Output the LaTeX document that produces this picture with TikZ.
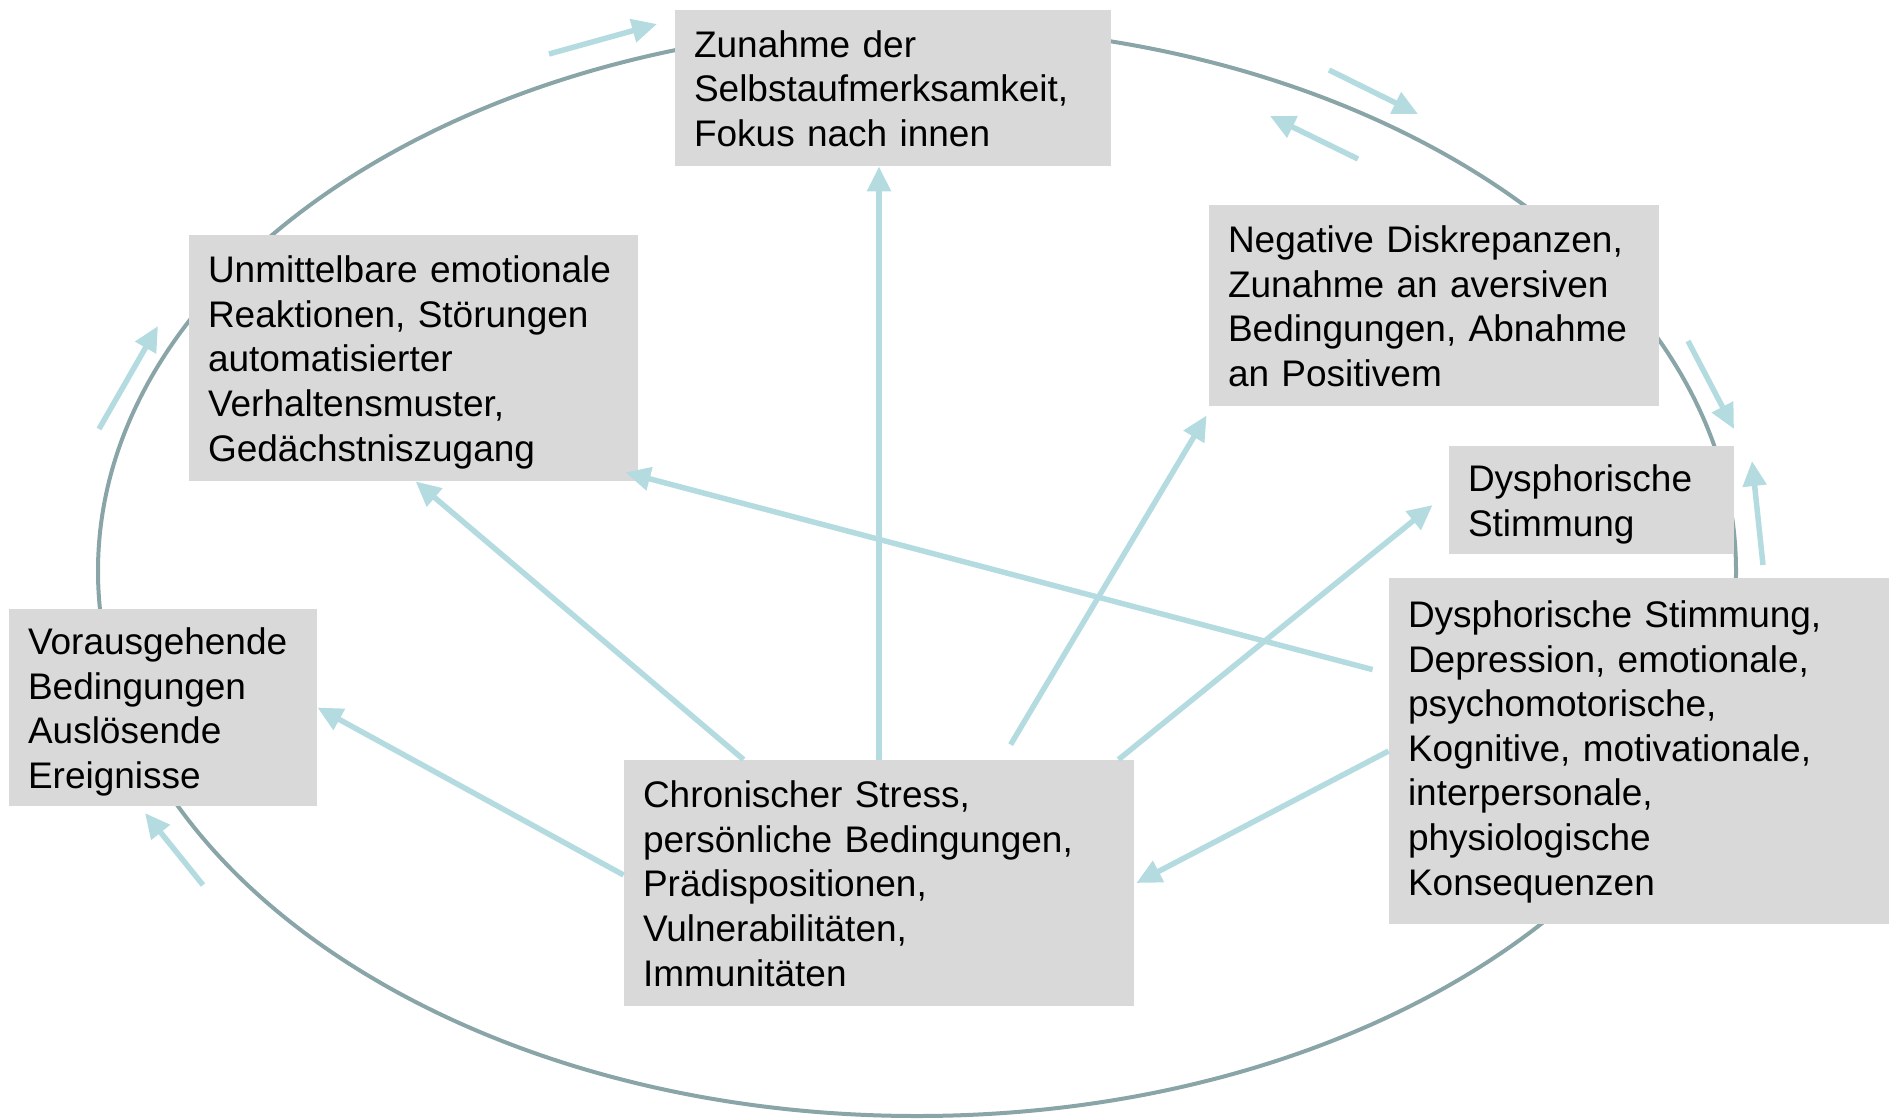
\documentclass[tikz,border=0pt]{standalone}
\usepackage{fontspec}
\setmainfont{Liberation Sans}
\usetikzlibrary{arrows.meta,calc}
\definecolor{ringcol}{HTML}{8AA5A8}
\definecolor{arrcol}{HTML}{B4DCE0}
\definecolor{boxcol}{HTML}{D9D9D9}
\begin{document}
\begin{tikzpicture}[x=0.5pt,y=-0.5pt,
  boxnode/.style={fill=boxcol, draw=none, inner xsep=9.5pt, inner ysep=0pt,
    align=left, anchor=center, text=black,
    font=\fontsize{18.5pt}{22.3pt}\selectfont,
    execute at begin node={\rule{0pt}{18.07pt}},
    execute at end node={\rule[-4.23pt]{0pt}{4.23pt}}},
  ring/.style={draw=ringcol, line width=2pt},
  arr/.style={draw=arrcol, line width=2.75pt,
    -{Triangle[width=11.5pt,length=12.5pt]}}]
\useasboundingbox (0,0) rectangle (1889,1119);

% outer cycle
\coordinate (ringc) at (917,571);
\draw[ring] (ringc) ellipse [x radius=409.5pt, y radius=272.5pt];

% boxes
\node[boxnode, minimum width=218pt, minimum height=78pt, text width=199pt] (Z) at (893,88)
  {Zunahme der\\Selbstaufmerksamkeit,\\Fokus nach innen};
\node[boxnode, minimum width=224.5pt, minimum height=123pt, text width=205.5pt] (U) at (413.5,358)
  {Unmittelbare emotionale\\Reaktionen, Störungen\\automatisierter\\Verhaltensmuster,\\Gedächstniszugang};
\node[boxnode, minimum width=225pt, minimum height=100.5pt, text width=206pt] (N) at (1434,305.5)
  {Negative Diskrepanzen,\\Zunahme an aversiven\\Bedingungen, Abnahme\\an Positivem};
\node[boxnode, minimum width=142.5pt, minimum height=54pt, text width=123.5pt] (D) at (1591.5,500)
  {Dysphorische\\Stimmung};
\node[boxnode, minimum width=250pt, minimum height=173pt, text width=231pt,
  execute at end node={\rule[-7.83pt]{0pt}{7.83pt}}] (B) at (1639,751)
  {Dysphorische Stimmung,\\Depression, emotionale,\\psychomotorische,\\Kognitive, motivationale,\\interpersonale,\\physiologische\\Konsequenzen};
\node[boxnode, minimum width=154pt, minimum height=98.5pt, text width=135pt] (V) at (163,707.5)
  {Vorausgehende\\Bedingungen\\Auslösende\\Ereignisse};
\node[boxnode, minimum width=255pt, minimum height=123pt, text width=236pt] (C) at (879,883)
  {Chronischer Stress,\\persönliche Bedingungen,\\Prädispositionen,\\Vulnerabilitäten,\\Immunitäten};

% inner arrows
\draw[arr] (C.north) -- (C.north |- Z.south);
\draw[arr] ([xshift=60pt]C.north west) -- ([xshift=113.5pt]U.south west);
\draw[arr] ([yshift=4pt]C.west) -- (V.east);
\draw[arr] ([xshift=193.5pt,yshift=7.5pt]C.north west) -- ([xshift=-1pt,yshift=-4.5pt]N.south west);
\draw[arr] ([xshift=-8pt]C.north east) -- ([xshift=-8pt,yshift=-2.5pt]D.west);
\draw[arr] ([xshift=-8pt,yshift=-46pt]B.north west) -- ([xshift=-6.5pt,yshift=4.5pt]U.south east);
\draw[arr] (B.west) -- ([xshift=1pt]C.east);

% outer direction arrows
\coordinate (o1s) at (549,54);   \coordinate (o1e) at (657,24);
\coordinate (o2s) at (1329,70);  \coordinate (o2e) at (1418,114);
\coordinate (o3s) at (1358,159); \coordinate (o3e) at (1270,116);
\coordinate (o4s) at (1688,341); \coordinate (o4e) at (1734,429);
\coordinate (o5s) at (1763,565); \coordinate (o5e) at (1752,461);
\coordinate (o6s) at (99,429);   \coordinate (o6e) at (158,326);
\coordinate (o7s) at (203,885);  \coordinate (o7e) at (145,813);
\foreach \i in {1,...,7} {\draw[arr] (o\i s) -- (o\i e);}
\end{tikzpicture}
\end{document}
